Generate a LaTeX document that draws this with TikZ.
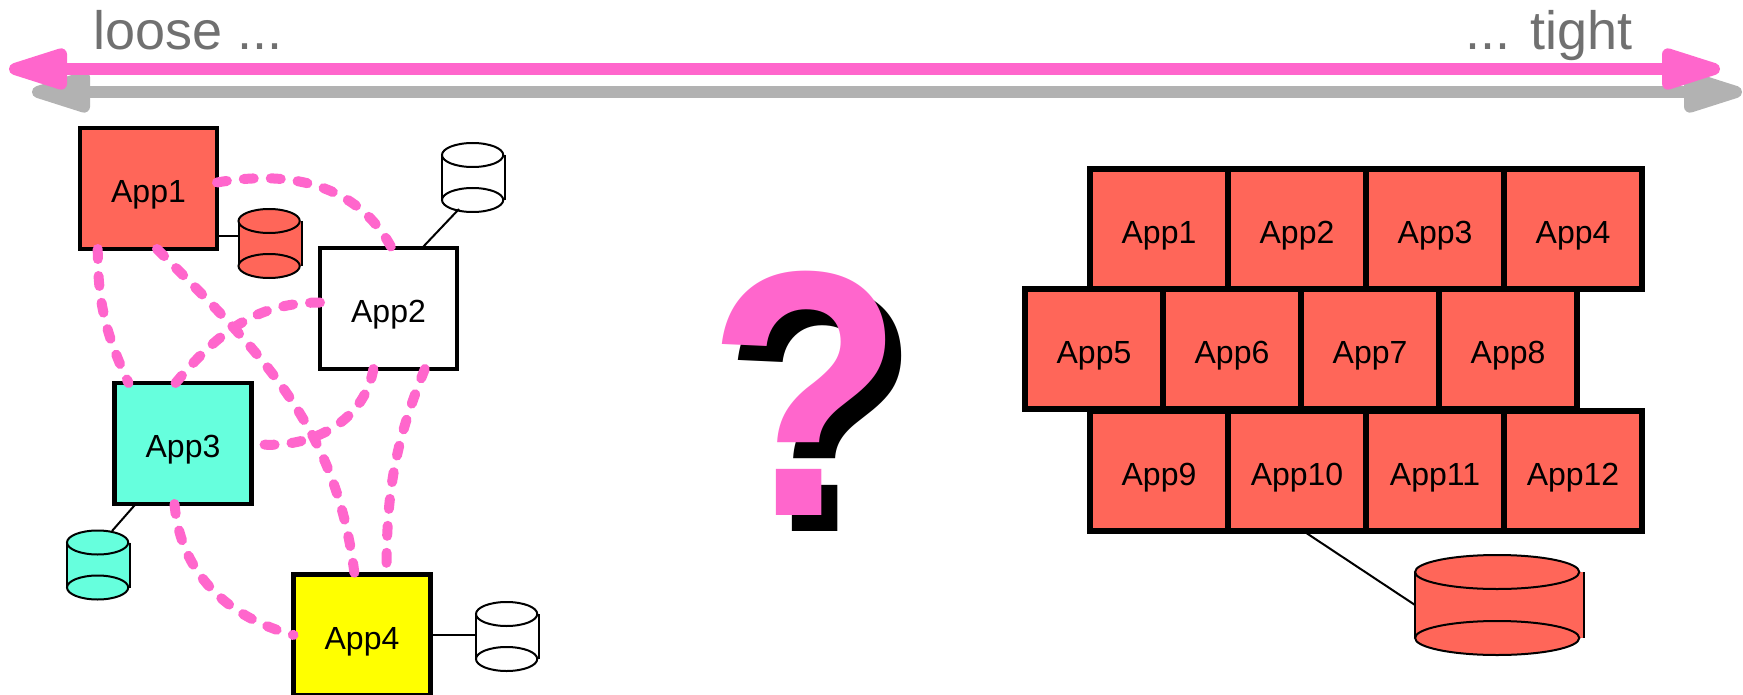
\documentclass[tikz,border=0pt]{standalone}
\usepackage{fontspec}
\setmainfont{Liberation Sans}
\usetikzlibrary{arrows.meta}
\usetikzlibrary{positioning}
\definecolor{app_red}{RGB}{255,102,89}
\definecolor{app_teal}{RGB}{102,255,221}
\definecolor{app_yellow}{RGB}{255,255,0}
\definecolor{link_pink}{RGB}{255,102,204}
\definecolor{scale_gray}{RGB}{178,178,178}
\definecolor{label_gray}{RGB}{112,112,112}
\tikzstyle{app_node} = [
    rectangle, 
    draw=black, 
    line width=2.4pt, 
    align=center, 
    outer sep=0pt, 
    inner sep=0pt, 
    font=\fontsize{16}{18}\selectfont, 
    text height=14pt, 
    text depth=0pt, 
    minimum width=68.5pt, 
    minimum height=60.5pt
]
\tikzstyle{wall_node} = [
    app_node, 
    fill=app_red, 
    line width=2.8pt, 
    minimum width=69pt, 
    minimum height=60pt
]
\tikzstyle{db_body} = [
    rectangle, 
    inner sep=0pt, 
    outer sep=0pt
]
\tikzstyle{db_line} = [
    draw=black, 
    line width=1pt
]
\tikzstyle{link} = [
    link_pink, 
    line width=5pt, 
    line cap=round, 
    dash pattern=on 5pt off 8.5pt
]
\tikzstyle{scale_arrow} = [
    line width=6pt, 
    {Triangle[round,length=37pt,width=21pt]}-{Triangle[round,length=37pt,width=21pt]}
]
\tikzstyle{scale_label} = [
    label_gray, 
    inner sep=0pt, 
    font=\fontsize{27}{30}\selectfont
]
\tikzstyle{mark_node} = [
    inner sep=0pt, 
    xscale=0.92, 
    transform shape, 
    font=\fontsize{175}{175}\selectfont\bfseries
]
% name, centre x, centre y, width, body height, ellipse height, fill
\newcommand{\dbnode}[7]{
    \node [db_body, fill=#7, minimum width=#4*0.5pt, minimum height=#5*0.5pt] (#1) at (#2,#3) {};
    \draw [db_line] (#1.north west) -- (#1.south west) (#1.north east) -- (#1.south east);
    \draw [db_line, fill=#7] (#1.north) ++(-#4*0.014,0) ellipse ({#4*0.486} and #6);
    \draw [db_line, fill=#7] (#1.south) ++(-#4*0.014,0) ellipse ({#4*0.486} and #6);
}
\begin{document}
\begin{tikzpicture}[x=0.5pt, y=-0.5pt]
\useasboundingbox (0,0) rectangle (1743,695);

% scale at the top
\coordinate (gray_left) at (32,92);
\coordinate (gray_right) at (1742,92);
\coordinate (pink_left) at (9,69);
\coordinate (pink_right) at (1720,69);
\draw [scale_arrow, scale_gray] (gray_left) -- (gray_right);
\draw [scale_arrow, link_pink] (pink_left) -- (pink_right);
\node [scale_label, anchor=base west] (loose) at (93,50) {loose ...};
\node [scale_label, anchor=base east] (tight) at (1633,50) {... tight};

% loose apps
\dbnode{db1}{270}{243.5}{63}{45}{12}{app_red}
\dbnode{db2}{473.5}{177.5}{63}{45}{12}{white}
\dbnode{db3}{98.5}{565}{63}{45}{12}{app_teal}
\dbnode{db4}{507.5}{636.5}{63}{45}{12}{white}
\node [app_node, fill=app_red] (app1) at (148.5,188.5) {App1};
\node [app_node, fill=white] (app2) at (388.5,308.5) {App2};
\node [app_node, fill=app_teal] (app3) at (183,443.5) {App3};
\node [app_node, fill=app_yellow] (app4) at (362,635) {App4};
\coordinate (db2_foot) at (459,209);
\coordinate (db3_head) at (112,531);
\draw [db_line] (app1.-35) -- (app1.-35 -| db1.west);
\draw [db_line] (app2.61) -- (db2_foot);
\draw [db_line] (app3.-128) -- (db3_head);
\draw [db_line] (app4.east) -- (app4.east -| db4.west);

\draw [link] (app1.5) to [out=10, in=118] (app2.87);
\draw [link] (app1.-130) to [out=-90, in=115] (app3.132);
\draw [link] (app1.-82) to [out=-45, in=97] (app4.97);
\draw [link] (app2.175) to [out=180, in=50] (app3.97);
\draw [link] (app2.-104) to [out=-100, in=-8] (app3.east);
\draw [link] (app2.-59) to [out=-112, in=90] (app4.68);
\draw [link] (app3.-98) to [out=-85, in=165] (app4.west);

% question mark
\node [mark_node] (mark_back) at (821.5,409) {?};
\node [mark_node, link_pink] (mark_front) at (805.5,393) {?};

% tight apps
\node [wall_node] (wall1) at (1159,229) {App1};
\node [wall_node, right=0pt of wall1] (wall2) {App2};
\node [wall_node, right=0pt of wall2] (wall3) {App3};
\node [wall_node, right=0pt of wall3] (wall4) {App4};
\node [wall_node] (wall5) at (1094,349) {App5};
\node [wall_node, right=0pt of wall5] (wall6) {App6};
\node [wall_node, right=0pt of wall6] (wall7) {App7};
\node [wall_node, right=0pt of wall7] (wall8) {App8};
\node [wall_node] (wall9) at (1159,471) {App9};
\node [wall_node, right=0pt of wall9] (wall10) {App10};
\node [wall_node, right=0pt of wall10] (wall11) {App11};
\node [wall_node, right=0pt of wall11] (wall12) {App12};
\dbnode{db5}{1499.5}{605}{169}{66}{17}{app_red}
\draw [db_line] (wall10.-84) -- (db5.west);
\end{tikzpicture}
\end{document}
